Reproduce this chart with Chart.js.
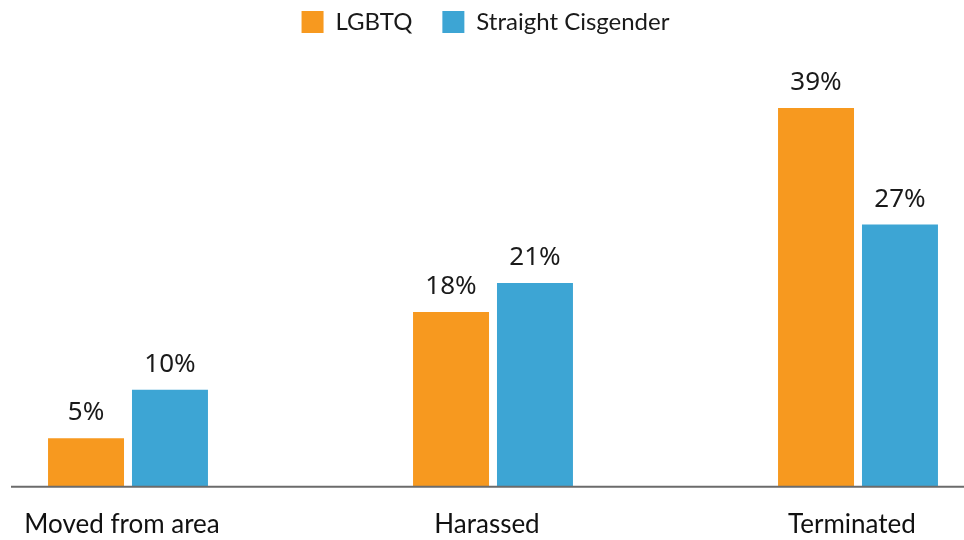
<!DOCTYPE html>
<html>
<head>
<meta charset="utf-8">
<script src="https://cdn.jsdelivr.net/npm/chart.js@4/dist/chart.umd.min.js"></script>
<style>
html,body{margin:0;padding:0;background:#fff;}
#wrap{width:964px;height:540px;position:relative;}
</style>
</head>
<body>
<div id="wrap"><canvas id="c" width="964" height="540"></canvas></div>
<script>
const categories = ["Moved from area", "Harassed", "Terminated"];
const seriesNames = ["LGBTQ", "Straight Cisgender"];
const lgbtqValues = [5, 18, 39];
const straightValues = [10, 21, 27];
const seriesColors = ["#F7991F", "#3DA5D4"];

const valueLabels = {
  id: 'valueLabels',
  afterDatasetsDraw(chart) {
    const ctx = chart.ctx;
    ctx.save();
    ctx.font = '26px "Noto Sans"';
    ctx.fillStyle = '#1a1a1a';
    ctx.textAlign = 'center';
    ctx.textBaseline = 'alphabetic';
    chart.data.datasets.forEach((ds, i) => {
      chart.getDatasetMeta(i).data.forEach((bar, j) => {
        ctx.fillText(ds.data[j] + '%', bar.x, bar.y - 18);
      });
    });
    ctx.restore();
  }
};

const baseLine = {
  id: 'baseLine',
  afterDatasetsDraw(chart) {
    const ctx = chart.ctx;
    const y = chart.scales.y.getPixelForValue(0);
    ctx.save();
    ctx.strokeStyle = '#6b6b6b';
    ctx.lineWidth = 2;
    ctx.beginPath();
    ctx.moveTo(11, y);
    ctx.lineTo(chart.width, y);
    ctx.stroke();
    ctx.restore();
  }
};

const legendShift = {
  id: 'legendShift',
  afterLayout(chart) {
    const lg = chart.legend;
    if (lg) { lg.left -= 15; lg.right -= 0; }
  }
};

new Chart(document.getElementById('c'), {
  type: 'bar',
  data: {
    labels: categories,
    datasets: [
      { label: seriesNames[0], data: lgbtqValues, backgroundColor: seriesColors[0] },
      { label: seriesNames[1], data: straightValues, backgroundColor: seriesColors[1] }
    ]
  },
  options: {
    responsive: false,
    animation: false,
    layout: { padding: { left: 128, right: 106, top: -20, bottom: -22 } },
    datasets: { bar: { categoryPercentage: 0.46, barPercentage: 0.905, clip: false } },
    plugins: {
      legend: {
        position: 'top',
        labels: {
          boxWidth: 22, boxHeight: 22, padding: 30,
          color: '#1a1a1a',
          font: { family: 'Lato', size: 24 }
        }
      },
      tooltip: { enabled: false }
    },
    scales: {
      x: {
        offset: false,
        grid: { display: false, drawTicks: false },
        border: { display: false },
        ticks: { color: '#111', padding: 22, labelOffset: -6, maxRotation: 0, autoSkip: false, font: { family: 'Lato', size: 26 } }
      },
      y: {
        display: false,
        min: 0,
        max: 45.6
      }
    }
  },
  plugins: [valueLabels, baseLine, legendShift]
});
</script>
</body>
</html>
